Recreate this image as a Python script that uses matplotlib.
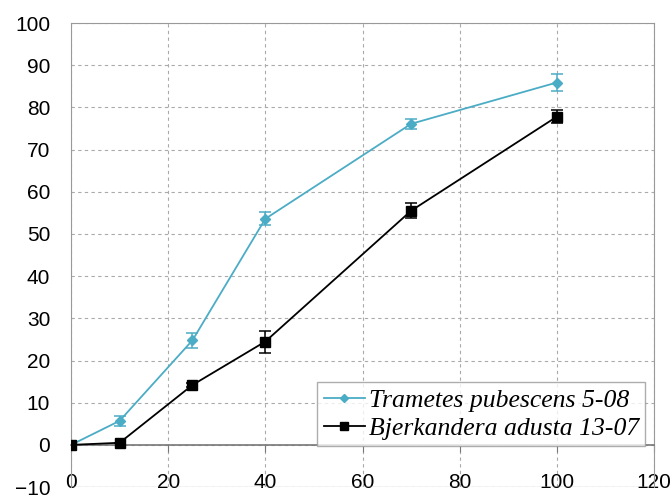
import numpy as np
import matplotlib
matplotlib.use("Agg")
import matplotlib.pyplot as plt
from matplotlib.lines import Line2D

x = [0, 10, 25, 40, 70, 100]
trametes = [0, 5.7, 24.8, 53.6, 76.1, 85.9]
trametes_err = [0, 1.2, 1.8, 1.5, 1.2, 1.9]
bjerk = [0, 0.5, 14.2, 24.5, 55.5, 77.8]
bjerk_err = [0, 0, 0.5, 2.6, 1.8, 1.5]
labels = ["Trametes pubescens 5-08", "Bjerkandera adusta 13-07"]

plt.rcParams['font.family'] = ['Liberation Sans', 'DejaVu Sans']

fig = plt.figure(figsize=(6.72, 4.95), dpi=100)
ax = fig.add_axes([0.1057, 0.016, 0.8675, 0.9375])

cyan = '#4bacc6'
ax.errorbar(x, trametes, yerr=trametes_err, color=cyan, marker='D', markersize=5,
            lw=1.3, capsize=4, elinewidth=1.1, capthick=1.1, zorder=3)
ax.errorbar(x, bjerk, yerr=bjerk_err, color='black', marker='s', markersize=6.5,
            lw=1.3, capsize=4, elinewidth=1.1, capthick=1.1, zorder=3)

ax.set_xlim(0, 120)
ax.set_ylim(-10, 100)
ax.set_xticks(np.arange(0, 121, 20))
ax.set_yticks(np.arange(-10, 101, 10))
ax.grid(True, color='#aaaaaa', ls=(0, (3, 3)), lw=0.8)

ax.spines['bottom'].set_position(('data', 0))
ax.spines['bottom'].set_color('#777777')
ax.spines['bottom'].set_linewidth(1.2)
for s in ['left', 'top', 'right']:
    ax.spines[s].set_color('#999999')
ax.axhline(-10, color='#cccccc', lw=1)

ax.tick_params(axis='x', direction='out', length=5, pad=15, labelsize=15, color='#777777')
ax.tick_params(axis='y', length=0, pad=15, labelsize=15)

handles = [Line2D([], [], color=cyan, marker='D', markersize=4.5, lw=1.3),
           Line2D([], [], color='black', marker='s', markersize=6, lw=1.3)]
leg = ax.legend(handles, labels, loc='lower right', bbox_to_anchor=(0.985, 0.088), frameon=True,
                fancybox=False, prop={'family': 'Liberation Serif', 'style': 'italic', 'size': 18.5},
                handlelength=1.6, handletextpad=0.15, borderpad=0.25, labelspacing=0.2,
                borderaxespad=0)
leg.get_frame().set_edgecolor('#999999')
leg.get_frame().set_linewidth(1)

fig.savefig('out.png', dpi=100)
